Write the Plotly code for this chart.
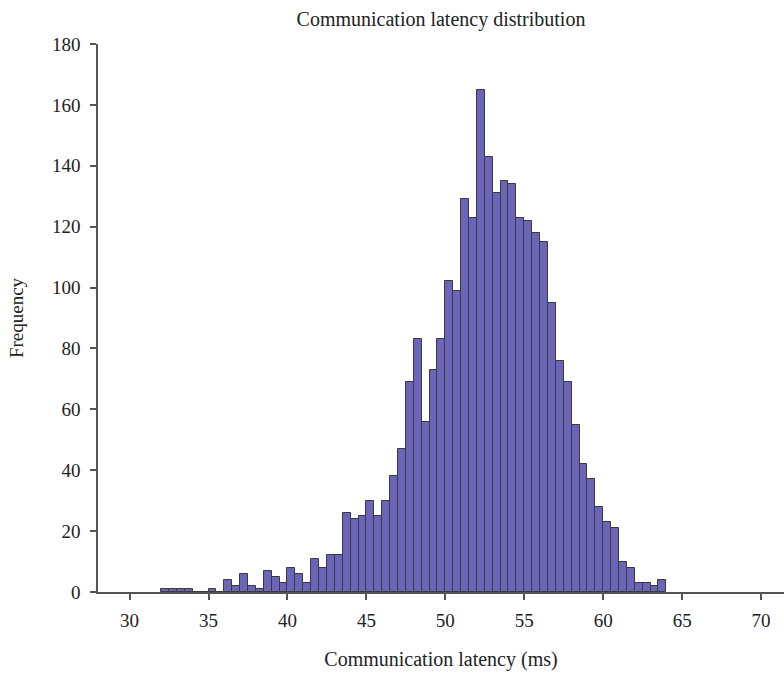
import plotly.graph_objects as go

# Histogram bins (left edges, ms) and counts
bin_left = [32.0, 32.5, 33.0, 33.5, 34.0, 34.5, 35.0, 35.5,
            36.0, 36.5, 37.0, 37.5, 38.0, 38.5, 39.0, 39.5,
            40.0, 40.5, 41.0, 41.5, 42.0, 42.5, 43.0, 43.5,
            44.0, 44.5, 45.0, 45.5, 46.0, 46.5, 47.0, 47.5,
            48.0, 48.5, 49.0, 49.5, 50.0, 50.5, 51.0, 51.5,
            52.0, 52.5, 53.0, 53.5, 54.0, 54.5, 55.0, 55.5,
            56.0, 56.5, 57.0, 57.5, 58.0, 58.5, 59.0, 59.5,
            60.0, 60.5, 61.0, 61.5, 62.0, 62.5, 63.0, 63.5]
counts = [1, 1, 1, 1, 0, 0, 1, 0,
          4, 2, 6, 2, 1, 7, 5, 3,
          8, 6, 3, 11, 8, 12, 12, 26,
          24, 25, 30, 25, 30, 38, 47, 69,
          83, 56, 73, 83, 102, 99, 129, 123,
          165, 143, 131, 135, 134, 123, 122, 118,
          115, 95, 76, 69, 55, 42, 37, 28,
          23, 21, 10, 8, 3, 3, 2, 4]
bin_width = 0.5

x_ticks = [30, 35, 40, 45, 50, 55, 60, 65, 70]
y_ticks = [0, 20, 40, 60, 80, 100, 120, 140, 160, 180]

centers = [b + bin_width / 2 for b in bin_left]

fig = go.Figure()
fig.add_trace(go.Bar(
    x=centers, y=counts, width=[bin_width] * len(counts),
    marker=dict(color="#6a65b8", line=dict(color="#3a3a3a", width=1)),
    showlegend=False,
))

font_family = "Liberation Serif, DejaVu Serif, serif"
fig.update_layout(
    width=784, height=673,
    margin=dict(l=98, r=0, t=44, b=81),
    paper_bgcolor="white", plot_bgcolor="white",
    font=dict(family=font_family, size=19, color="#222222"),
    title=dict(text="Communication latency distribution", x=0.5, xref="paper",
               y=1 - 19 / 673, yanchor="middle", font=dict(size=20)),
    bargap=0,
)
fig.update_xaxes(
    range=[28.0, 71.45], tickvals=x_ticks, ticktext=[str(v) for v in x_ticks],
    showgrid=False, zeroline=False, showline=True, linecolor="#555555", linewidth=1.5,
    ticks="outside", ticklen=6, tickcolor="#555555", tickwidth=1.5,
    ticklabelstandoff=4,
    title=dict(text="Communication latency (ms)", standoff=22, font=dict(size=20)),
)
fig.update_yaxes(
    range=[0, 180], tickvals=y_ticks,
    showgrid=False, zeroline=False, showline=True, linecolor="#555555", linewidth=1.5,
    ticks="outside", ticklen=6, tickcolor="#555555", tickwidth=1.5,
    ticklabelstandoff=6,
    title=dict(text="Frequency", standoff=23, font=dict(size=19)),
)

fig.write_html("out.html")
